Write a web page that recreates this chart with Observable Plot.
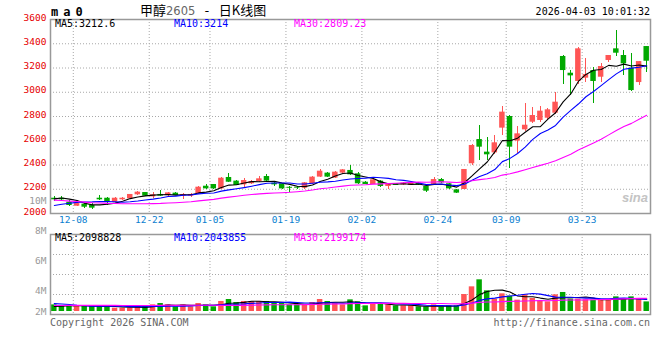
<!DOCTYPE html>
<html>
<head>
<meta charset="utf-8">
<script src="https://cdn.jsdelivr.net/npm/d3@7"></script>
<script src="https://cdn.jsdelivr.net/npm/@observablehq/plot@0.6"></script>
<style>
html,body{margin:0;padding:0;background:#fff;}
#chart{position:relative;width:660px;height:360px;overflow:hidden;background:#fff;}
#chart svg{position:absolute;left:0;}
.t{position:absolute;white-space:nowrap;font-family:"DejaVu Sans Mono",monospace;font-size:10px;line-height:12px;}
</style>
</head>
<body>
<div id="chart"></div>
<script>
// ---------- data ----------
const dates = ["12-04","12-05","12-08","12-09","12-10","12-11","12-12","12-15","12-16","12-17","12-18","12-19","12-22","12-23","12-24","12-25","12-26","12-29","12-30","12-31","01-05","01-06","01-07","01-08","01-09","01-12","01-13","01-14","01-15","01-16","01-19","01-20","01-21","01-22","01-23","01-26","01-27","01-28","01-29","01-30","02-02","02-03","02-04","02-05","02-06","02-09","02-10","02-11","02-12","02-13","02-24","02-25","02-26","02-27","03-02","03-03","03-04","03-05","03-06","03-09","03-10","03-11","03-12","03-13","03-16","03-17","03-18","03-19","03-20","03-23","03-24","03-25","03-26","03-27","03-30","03-31","04-01","04-02","04-03"];

const opens = [2126,2126,2093,2060,2077,2066,2126,2126,2093,2113,
  2121,2154,2173,2137,2157,2148,2168,2143,2143,2162,
  2225,2239,2203,2297,2267,2236,2245,2264,2305,2250,
  2245,2216,2217,2209,2245,2300,2333,2292,2333,2355,
  2327,2258,2239,2267,2223,2245,2236,2231,2250,2223,
  2231,2280,2245,2195,2198,2410,2610,2506,2500,2704,
  2800,2597,2690,2753,2767,2786,2827,3295,3157,3089,
  3116,3179,3124,3262,3358,3303,3198,3080,3377];
const highs = [2137,2143,2104,2085,2085,2080,2148,2129,2129,2135,
  2160,2179,2176,2170,2190,2173,2170,2162,2168,2223,
  2239,2242,2294,2327,2270,2286,2270,2305,2322,2258,
  2250,2222,2225,2258,2305,2360,2340,2346,2366,2396,
  2338,2264,2283,2270,2250,2250,2253,2256,2253,2228,
  2300,2289,2250,2198,2366,2566,2726,2630,2640,2882,
  2805,2717,2904,2877,2882,2866,3000,3300,3179,3372,
  3275,3207,3240,3303,3509,3344,3317,3253,3377];
const lows = [2102,2107,2058,2055,2044,2030,2110,2066,2090,2107,
  2118,2151,2140,2126,2137,2143,2145,2113,2135,2160,
  2198,2198,2198,2253,2228,2217,2236,2259,2264,2222,
  2200,2176,2200,2195,2242,2297,2295,2289,2330,2311,
  2240,2236,2236,2214,2195,2228,2233,2228,2231,2176,
  2228,2250,2198,2165,2195,2400,2437,2437,2490,2643,
  2368,2492,2679,2740,2753,2775,2820,3061,2973,3060,
  3083,2910,3083,3245,3295,3138,3009,3055,3160];
const closes = [2113,2113,2066,2082,2052,2044,2113,2093,2126,2126,
  2157,2176,2143,2154,2143,2170,2148,2157,2157,2217,
  2203,2203,2291,2258,2231,2272,2264,2286,2267,2236,
  2203,2208,2209,2253,2300,2349,2300,2341,2360,2319,
  2245,2239,2278,2223,2245,2231,2250,2253,2234,2184,
  2280,2253,2203,2168,2363,2561,2547,2484,2583,2836,
  2547,2657,2728,2808,2844,2855,2918,3179,3135,3358,
  3146,3089,3212,3303,3322,3234,3014,3253,3256];
const volumes = [1100000,1000000,1000000,830000,1000000,830000,830000,1000000,560000,560000,
  560000,940000,830000,1110000,1330000,1110000,780000,1110000,780000,1330000,
  1110000,780000,1670000,2000000,1500000,1670000,1670000,1670000,1670000,1330000,
  1330000,1110000,1110000,1110000,1500000,2000000,1670000,1390000,1110000,1940000,
  1610000,940000,1220000,1220000,1110000,940000,940000,940000,780000,780000,
  1110000,780000,940000,940000,2830000,4110000,5280000,3440000,2060000,2940000,
  2560000,1890000,2780000,2170000,1780000,1610000,2780000,3170000,2060000,2060000,
  1950000,1890000,1890000,2000000,2440000,2000000,2440000,2000000,1600000];
// sessions before the visible window (estimated from where the MA lines start)
const priorCloses = [2210,2200,2195,2190,2185,2180,2190,2175,2170,2175,
  2160,2140,2120,2100,2080,2060,2040,2030,2020,2018,
  2005,1995,2000,2020,2035,2080,2110,2140,2162];
const priorVolumes = [900000,800000,850000,900000,800000,750000,900000,850000,800000,900000,
  850000,800000,900000,850000,800000,900000,850000,850000,800000,900000,
  1600000,1900000,2000000,1800000,1560000,800000,750000,850000,800000];

const priceTicks = [2000,2200,2400,2600,2800,3000,3200,3400,3600];
const dateTickLabels = ["12-08","12-22","01-05","01-19","02-02","02-24","03-09","03-23"];
const volTickValues = [10000000,8000000,6000000,4000000,2000000];
const volTickLabels = ["10M","8M","6M","4M","2M"];
const maPeriods = [5,10,30];
const maColors = ["#000000","#0000ff","#ff00ff"];
const priceMALabels = ["MA5:3212.6","MA10:3214","MA30:2809.23"];
const volMALabels = ["MA5:2098828","MA10:2043855","MA30:2199174"];
const titleParts = ["甲醇","2605"," - ","日K线图"];
const brandText = "m a 0";
const stampText = "2026-04-03 10:01:32";
const footLeft = "Copyright 2026 SINA.COM";
const footRight = "http://finance.sina.com.cn";

// ---------- derived tables ----------
const RED = "#ff5555", GREEN = "#00a800", GRID = "#a8a8a8", FRAME = "#999999";
const rows = dates.map((d, i) => ({
  i, date: d, open: opens[i], high: highs[i], low: lows[i], close: closes[i],
  volume: volumes[i], color: closes[i] >= opens[i] ? RED : GREEN
}));
function movingAverage(values, prior, n) {
  const all = prior.concat(values);
  return values.map((_, i) => {
    const end = prior.length + i + 1;
    return d3.mean(all.slice(Math.max(0, end - n), end));
  });
}
const priceMA = maPeriods.flatMap((n, k) =>
  movingAverage(closes, priorCloses, n).map((v, i) => ({i, v, key: n, color: maColors[k]})));
const volMA = maPeriods.flatMap((n, k) =>
  movingAverage(volumes, priorVolumes, n).map((v, i) => ({i, v, key: n, color: maColors[k]})));
const dateTickPos = dateTickLabels.map(d => dates.indexOf(d) + 0.5);
const xDomain = [-0.5, dates.length - 0.5];
const half = 0.36;
const font = {background: "transparent", fontFamily: "'DejaVu Sans Mono', monospace", fontSize: "9.5px", overflow: "visible"};

// ---------- price panel ----------
const main = Plot.plot({
  width: 660, height: 232, marginTop: 19, marginBottom: 19, marginLeft: 50, marginRight: 10,
  style: font,
  x: {type: "linear", domain: xDomain, axis: null},
  y: {type: "linear", domain: [priceTicks[0], priceTicks[priceTicks.length - 1]], axis: null},
  color: {type: "identity"},
  marks: [
    Plot.ruleY(priceTicks.slice(1, -1), {y: d => d, stroke: GRID, strokeDasharray: "1,2"}),
    Plot.ruleX(dateTickPos, {x: d => d, stroke: GRID, strokeDasharray: "1,2"}),
    Plot.ruleX(rows, {x: "i", y1: "low", y2: "high", stroke: "color", shapeRendering: "crispEdges"}),
    Plot.rect(rows, {x1: d => d.i - half, x2: d => d.i + half, y1: "open", y2: "close", fill: "color"}),
    Plot.line(priceMA, {x: "i", y: "v", z: "key", stroke: "color", strokeWidth: 1.1}),
    Plot.frame({stroke: FRAME, strokeWidth: 1.5}),
    Plot.text(priceTicks, {y: d => d, text: d => String(d), frameAnchor: "left", textAnchor: "end", dx: -4, dy: -2, fill: "#e60000", fontSize: 9.5}),
    Plot.text(dateTickPos, {x: d => d, text: d => dates[d - 0.5], frameAnchor: "bottom", lineAnchor: "top", dy: 3, fill: "#0a80d0", fontSize: 9.5})
  ]
});

// ---------- volume panel ----------
const volDomain = [-500000, 12833333];
const volGrid = [1, 2, 3].map(k => volDomain[0] + (volDomain[1] - volDomain[0]) * k / 4);
const vol = Plot.plot({
  width: 660, height: 170, marginTop: 44, marginBottom: 46, marginLeft: 50, marginRight: 10,
  style: font,
  x: {type: "linear", domain: xDomain, axis: null},
  y: {type: "linear", domain: volDomain, axis: null},
  color: {type: "identity"},
  marks: [
    Plot.ruleY(volGrid, {y: d => d, stroke: GRID, strokeDasharray: "1,2"}),
    Plot.ruleX(dateTickPos, {x: d => d, stroke: GRID, strokeDasharray: "1,2"}),
    Plot.rect(rows, {x1: d => d.i - half, x2: d => d.i + half, y1: 0, y2: "volume", fill: "color"}),
    Plot.line(volMA, {x: "i", y: "v", z: "key", stroke: "color", strokeWidth: 1.1}),
    Plot.frame({stroke: FRAME, strokeWidth: 1.5})
  ]
});

// ---------- volume axis labels (as laid out in the reference) ----------
const volAxis = Plot.plot({
  width: 660, height: 170, marginTop: 10, marginBottom: 49, marginLeft: 50, marginRight: 10,
  style: font,
  y: {type: "linear", domain: [2600000, 10000000], clamp: true, axis: null},
  marks: [
    Plot.text(volTickValues.map((v, k) => ({v, label: volTickLabels[k]})),
      {y: "v", text: "label", frameAnchor: "left", textAnchor: "end", dx: -4, fill: "#999999", fontSize: 9.5})
  ]
});

const chart = document.getElementById("chart");
function place(node, top) { node.style.top = top + "px"; node.style.left = "0px"; chart.appendChild(node); }
place(main, 0);
place(vol, 190);
place(volAxis, 190);

function addText(text, css) {
  const el = document.createElement("div");
  el.className = "t";
  el.textContent = text;
  Object.assign(el.style, css);
  chart.appendChild(el);
  return el;
}
// header
addText(brandText, {left: "51px", top: "5px", fontSize: "12px", fontWeight: "bold", letterSpacing: "-1.1px", lineHeight: "14px"});
const title = document.createElement("div");
title.className = "t";
Object.assign(title.style, {left: "140px", top: "1px", fontFamily: "'Noto Sans CJK SC', sans-serif", fontSize: "13px", lineHeight: "17px", color: "#000"});
const partStyles = [
  {},
  {color: "#666", fontFamily: "'DejaVu Sans', sans-serif", fontSize: "11.5px"},
  {fontFamily: "'DejaVu Sans Mono', monospace", fontSize: "13px", whiteSpace: "pre"},
  {}
];
titleParts.forEach((p, k) => {
  const s = document.createElement("span");
  s.textContent = p;
  Object.assign(s.style, partStyles[k]);
  title.appendChild(s);
});
chart.appendChild(title);
addText(stampText, {right: "10px", top: "6px", color: "#000"});
// MA legends
const legendLeft = [55, 174, 294];
priceMALabels.forEach((s, k) => addText(s, {left: legendLeft[k] + "px", top: "18px", color: maColors[k]}));
volMALabels.forEach((s, k) => addText(s, {left: legendLeft[k] + "px", top: "232px", color: maColors[k]}));
// footer
addText(footLeft, {left: "50px", top: "317px", color: "#666"});
addText(footRight, {right: "10px", top: "317px", color: "#666"});
// watermark
addText("sina", {left: "622px", top: "192px", fontFamily: "'Liberation Sans', sans-serif", fontStyle: "italic", fontWeight: "bold", fontSize: "13px", color: "#c4c4c4"});
</script>
</body>
</html>
